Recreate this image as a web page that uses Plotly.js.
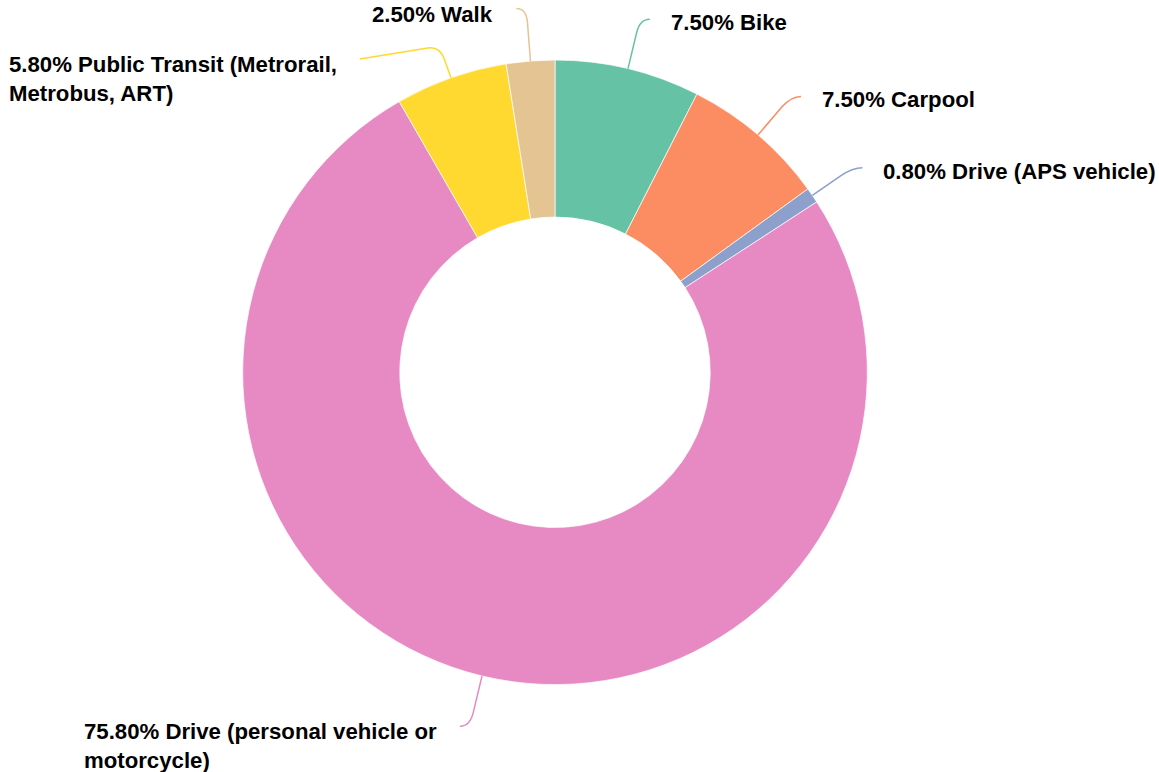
<!DOCTYPE html>
<html>
<head>
<meta charset="utf-8">
<script src="https://cdn.plot.ly/plotly-3.0.1.min.js"></script>
<style>html,body{margin:0;padding:0;background:#fff;}#chart{width:1159px;height:772px;}</style>
</head>
<body>
<div id="chart"></div>
<script>
// ---- data ----
const categories = ['Bike', 'Carpool', 'Drive (APS vehicle)', 'Drive (personal vehicle or motorcycle)', 'Public Transit (Metrorail, Metrobus, ART)', 'Walk'];
const shares = [7.5, 7.5, 0.8, 75.8, 5.8, 2.5];
const colors = ['#66c2a5', '#fc8d62', '#8da0cb', '#e78ac3', '#ffd92f', '#e5c494'];

// ---- layout options for labels (leader-line corner radius, side) ----
const labelOpts = [
  {r: 363, side: 1},
  {r: 363, side: 1},
  {r: 361, side: 1},
  {r: 364, side: -1},
  {r: 346, side: -1, endDx: -80, endDy: 13},
  {r: 365, side: -1}
];

const W = 1159, H = 772;
const cx = 555, cy = 372.3, R = 312.3;
const holeFrac = 0.497;
const fontSize = 22.2, lineH = 28.8;

const px = x => x / W;
const py = y => 1 - y / H;

function wrap(str, maxChars) {
  const words = str.split(' ');
  const lines = [];
  let cur = '';
  words.forEach(w => {
    const t = cur ? cur + ' ' + w : w;
    if (t.length > maxChars && cur) { lines.push(cur); cur = w; }
    else cur = t;
  });
  if (cur) lines.push(cur);
  return lines;
}

const total = shares.reduce((a, b) => a + b, 0);
const shapes = [];
const annotations = [];
let cum = 0;
shares.forEach((v, i) => {
  const f = (cum + v / 2) / total;
  cum += v;
  const th = f * 2 * Math.PI;
  const s = Math.sin(th), c = Math.cos(th);
  const o = labelOpts[i];
  const pt = r => [cx + r * s, cy - r * c];
  const p0 = pt(R);
  const pA = pt(o.r - 14);
  const pC = pt(o.r);
  const pE = [pC[0] + (o.endDx !== undefined ? o.endDx : o.side * 10), pC[1] + (o.endDy || 0)];
  const dx = pE[0] - pC[0], dy = pE[1] - pC[1];
  const len = Math.hypot(dx, dy);
  const k = Math.min(12, len) / len;
  const pB = [pC[0] + dx * k, pC[1] + dy * k];
  const P = p => px(p[0]).toFixed(5) + ',' + py(p[1]).toFixed(5);
  shapes.push({
    type: 'path', xref: 'paper', yref: 'paper',
    path: 'M' + P(p0) + ' L' + P(pA) + ' Q' + P(pC) + ' ' + P(pB) + ' L' + P(pE),
    line: {color: colors[i], width: 1.5}
  });
  const lines = wrap(v.toFixed(2) + '% ' + categories[i], 34);
  const firstY = Math.max(pE[1] + (o.side > 0 ? 3.5 : 5.5), 15);
  const centerY = firstY + (lines.length - 1) * lineH / 2;
  annotations.push({
    xref: 'paper', yref: 'paper',
    x: px(pE[0] + o.side * (o.side > 0 ? 19 : 21)), y: py(centerY),
    xanchor: o.side > 0 ? 'left' : 'right', yanchor: 'middle',
    align: 'left', showarrow: false,
    text: lines.join('<br>'),
    font: {family: 'Liberation Sans, Arial, Helvetica, sans-serif', size: fontSize, color: '#000', weight: 700}
  });
});

const trace = {
  type: 'pie',
  values: shares,
  labels: categories,
  sort: false,
  direction: 'clockwise',
  rotation: 0,
  hole: holeFrac,
  textinfo: 'none',
  hoverinfo: 'none',
  marker: {colors: colors, line: {color: '#ffffff', width: 0.7}},
  domain: {x: [px(cx - R), px(cx + R)], y: [py(cy + R), py(cy - R)]},
  showlegend: false
};

Plotly.newPlot('chart', [trace], {
  width: W, height: H,
  margin: {l: 0, r: 0, t: 0, b: 0},
  paper_bgcolor: '#fff', plot_bgcolor: '#fff',
  showlegend: false,
  shapes: shapes,
  annotations: annotations
}, {displayModeBar: false, staticPlot: true});
</script>
</body>
</html>
